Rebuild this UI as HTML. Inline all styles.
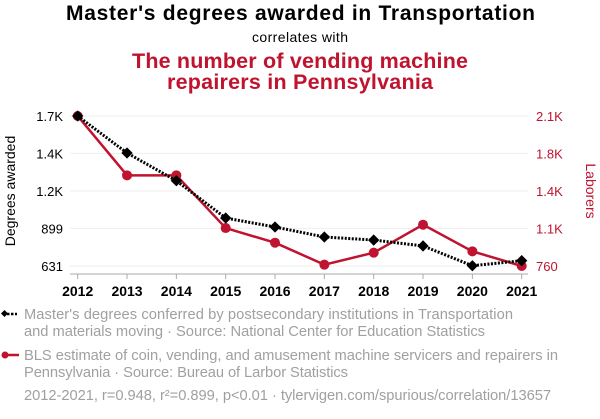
<!DOCTYPE html>
<html><head><meta charset="utf-8"><style>
body{margin:0;background:#fff;width:600px;height:414px;overflow:hidden}
svg text{font-family:"Liberation Sans",Arial,sans-serif}
</style></head><body>
<svg id="chart" width="600" height="414" xmlns="http://www.w3.org/2000/svg">
<text x="66" y="20" textLength="469" font-size="21" font-weight="bold" fill="#000">Master's degrees awarded in Transportation</text>
<text x="252" y="42" textLength="96" font-size="14" fill="#000">correlates with</text>
<text x="132" y="68" textLength="336" font-size="21.5" font-weight="bold" fill="#c0132f">The number of vending machine</text>
<text x="167" y="89" textLength="266" font-size="21.5" font-weight="bold" fill="#c0132f">repairers in Pennsylvania</text>
<g id="grid"></g><g id="axes"></g><g id="series"></g>
<text transform="translate(15,191) rotate(-90)" text-anchor="middle" font-size="14" fill="#000">Degrees awarded</text>
<text transform="translate(586,191) rotate(90)" text-anchor="middle" font-size="14" fill="#c0132f">Laborers</text>
<g>
<line x1="3" y1="314" x2="17" y2="314" stroke="#000" stroke-width="2.5" stroke-dasharray="2.5,1.5"/>
<rect x="2" y="311" width="5" height="5" fill="#000" transform="rotate(45 4.5 313.5)"/>
<text x="24" y="319" textLength="489" font-size="14.7" fill="#a0a0a0">Master's degrees conferred by postsecondary institutions in Transportation</text>
<text x="24" y="336" textLength="461" font-size="14.7" fill="#a0a0a0">and materials moving · Source: National Center for Education Statistics</text>
</g>
<g>
<line x1="3" y1="355" x2="19" y2="355" stroke="#c0132f" stroke-width="2.5"/>
<circle cx="5" cy="355" r="3.5" fill="#c0132f"/>
<text x="24" y="360" textLength="534" font-size="14.7" fill="#a0a0a0">BLS estimate of coin, vending, and amusement machine servicers and repairers in</text>
<text x="24" y="377" textLength="324" font-size="14.7" fill="#a0a0a0">Pennsylvania · Source: Bureau of Larbor Statistics</text>
</g>
<text x="24" y="400" textLength="527" font-size="14.7" fill="#a0a0a0">2012-2021, r=0.948, r²=0.899, p&lt;0.01 · tylervigen.com/spurious/correlation/13657</text>
</svg>
<script>
const years=[2012,2013,2014,2015,2016,2017,2018,2019,2020,2021];
const degrees=[1701,1437,1239,973,909,838,816,774,633,669];
const laborers=[2100,1570,1570,1099,968,772,879,1129,891,760];
const leftTicks=[631,899,1166,1434,1701];
const leftTickLabels=["631","899","1.2K","1.4K","1.7K"];
const rightTicks=[760,1095,1430,1765,2100];
const rightTickLabels=["760","1.1K","1.4K","1.8K","2.1K"];

const NS="http://www.w3.org/2000/svg";
const x0=77.7,x1=521.7,yTop=116,yBot=266;
const xs=y=>x0+(y-years[0])/(years[years.length-1]-years[0])*(x1-x0);
const yl=v=>yBot-(v-631)/(1701-631)*(yBot-yTop);
const yr=v=>yBot-(v-760)/(2100-760)*(yBot-yTop);
function mk(tag,attrs,parent){const e=document.createElementNS(NS,tag);for(const k in attrs)e.setAttribute(k,attrs[k]);parent.appendChild(e);return e;}
const grid=document.getElementById('grid'),axes=document.getElementById('axes'),ser=document.getElementById('series');
leftTicks.forEach((t,i)=>{
  const g=mk('line',{x1:70,x2:528,y1:yl(t),y2:yl(t),stroke:'#eeeeee','stroke-width':1},grid);
  
  
  const l=mk('text',{x:63,y:yl(t)+5,'text-anchor':'end','font-size':13,fill:'#000'},axes);
  l.textContent=leftTickLabels[i];
  
  
});
rightTicks.forEach((t,i)=>{
  const l=mk('text',{x:536,y:yr(t)+5,'text-anchor':'start','font-size':13,fill:'#c0132f'},axes);
  l.textContent=rightTickLabels[i];
  
  
});
const ax=mk('line',{x1:70,x2:528,y1:274,y2:274,stroke:'#aaa','stroke-width':1},axes);


years.forEach(y=>{
  const tk=mk('line',{x1:xs(y),x2:xs(y),y1:274,y2:279,stroke:'#aaa'},axes);
  
  
  const l=mk('text',{x:xs(y),y:296,'text-anchor':'middle','font-size':14,'font-weight':'bold',fill:'#000'},axes);
  l.textContent=y;
  
  
});
const rp=mk('polyline',{points:years.map((y,i)=>xs(y)+','+yr(laborers[i])).join(' '),fill:'none',stroke:'#c0132f','stroke-width':2.5},ser);


years.forEach((y,i)=>{
  const c=mk('circle',{cx:xs(y),cy:yr(laborers[i]),r:5,fill:'#c0132f'},ser);
  
  
});
const bp=mk('polyline',{points:years.map((y,i)=>xs(y)+','+yl(degrees[i])).join(' '),fill:'none',stroke:'#000','stroke-width':3,'stroke-dasharray':'2,1.5'},ser);


years.forEach((y,i)=>{
  const cx=xs(y),cy=yl(degrees[i]);
  const d=mk('rect',{x:cx-4,y:cy-4,width:8,height:8,fill:'#000',transform:`rotate(45 ${cx} ${cy})`},ser);
  
  
});
</script>
</body></html>
